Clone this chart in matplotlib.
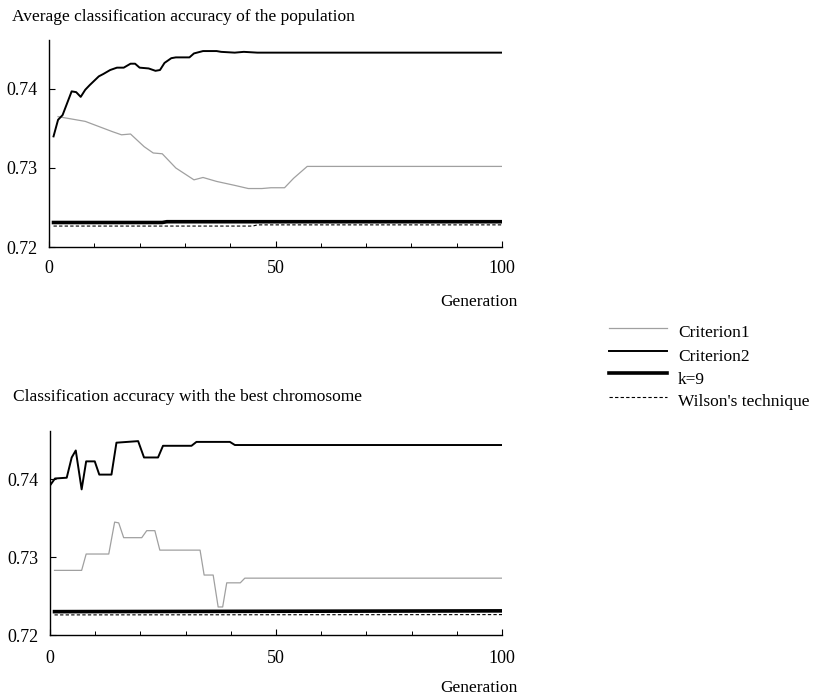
import matplotlib
matplotlib.use("Agg")
import matplotlib.pyplot as plt
from matplotlib.lines import Line2D

plt.rcParams['font.family'] = ['Liberation Serif', 'DejaVu Serif']

# --- donnees (generation, precision) ---
# Moyenne de la population
gen_c1_avg = [2, 8, 14, 16, 18, 21, 23, 25, 28, 32, 34, 37, 41, 44, 47, 49, 52, 54, 57, 100]
c1_avg = [0.7365, 0.7359, 0.7346, 0.7342, 0.7343, 0.7327, 0.7319, 0.7318, 0.7300, 0.7285,
          0.7288, 0.7283, 0.7278, 0.7274, 0.7274, 0.7275, 0.7275, 0.7287, 0.7302, 0.7302]

gen_c2_avg = [1, 2, 3, 5, 6, 7, 8, 9, 11, 12, 13.5, 15, 16.5, 18, 19, 20, 22, 23.5, 24.5,
              25.5, 27, 28, 31, 32, 34, 37, 38, 41, 43, 46, 100]
c2_avg = [0.7340, 0.7361, 0.7367, 0.7397, 0.7396, 0.7390, 0.7399, 0.7405, 0.7416, 0.7419,
          0.7424, 0.7427, 0.7427, 0.7432, 0.7432, 0.7427, 0.7426, 0.7423, 0.7424, 0.7433,
          0.7439, 0.7440, 0.7440, 0.7445, 0.7448, 0.7448, 0.7447, 0.7446, 0.7447, 0.7446, 0.7446]

gen_k9_avg = [1, 25, 26, 100]
k9_avg = [0.7231, 0.7231, 0.7232, 0.7232]

gen_wil_avg = [1, 45, 46, 100]
wil_avg = [0.72265, 0.72265, 0.7228, 0.7228]

# Meilleur chromosome
gen_c1_best = [1, 7, 8, 13, 14.3, 15.2, 16.3, 20.3, 21.4, 23.2, 24.3, 33.2, 34.1, 36.1,
               37.2, 38.2, 39.1, 42.1, 43.1, 100]
c1_best = [0.7283, 0.7283, 0.7304, 0.7304, 0.7345, 0.7344, 0.7325, 0.7325, 0.7334, 0.7334,
           0.7309, 0.7309, 0.7277, 0.7277, 0.7236, 0.7236, 0.7267, 0.7267, 0.7273, 0.7273]

gen_c2_best = [0, 1.1, 3.7, 4.8, 5.7, 7, 8, 9.9, 10.9, 13.6, 14.7, 19.5, 20.8, 23.9, 25,
               31.3, 32.4, 39.8, 40.9, 100]
c2_best = [0.7392, 0.7401, 0.7402, 0.7428, 0.7437, 0.7387, 0.7423, 0.7423, 0.7406, 0.7406,
           0.7447, 0.7449, 0.7428, 0.7428, 0.7443, 0.7443, 0.7448, 0.7448, 0.7444, 0.7444]

gen_k9_best = [1, 100]
k9_best = [0.7230, 0.7231]

gen_wil_best = [1, 100]
wil_best = [0.72258, 0.72262]

x_ticks = [0, 50, 100]
y_ticks = [0.72, 0.73, 0.74]

styles = {
    'c1': dict(color='#a0a0a0', lw=0.9),
    'c2': dict(color='black', lw=1.4),
    'k9': dict(color='black', lw=2.6),
    'wil': dict(color='black', lw=0.8, ls=(0, (3, 2))),
}

fig = plt.figure(figsize=(8.25, 6.99), dpi=100)


def style_axes(ax, xpad):
    ax.set_xlim(0, 100)
    ax.set_ylim(0.72, 0.7462)
    ax.spines['top'].set_visible(False)
    ax.spines['right'].set_visible(False)
    ax.spines['left'].set_linewidth(1.0)
    ax.spines['bottom'].set_linewidth(1.0)
    ax.set_xticks(x_ticks)
    ax.set_xticks(range(0, 101, 10), minor=True)
    ax.set_yticks(y_ticks)
    ax.set_yticklabels(['0.72', '0.73', '0.74'])
    ax.tick_params(axis='both', which='major', direction='in', length=4, width=0.8,
                   labelsize=13)
    ax.tick_params(axis='x', which='major', pad=xpad)
    ax.tick_params(axis='y', which='major', pad=8)
    ax.tick_params(axis='x', which='minor', direction='in', length=3, width=0.7)


def tracer(ax, series):
    for (gx, gy, key) in series:
        ax.plot(gx, gy, **styles[key])


ax1 = fig.add_axes([49 / 825, 452 / 699, 453 / 825, 207 / 699])
tracer(ax1, [(gen_c1_avg, c1_avg, 'c1'), (gen_c2_avg, c2_avg, 'c2'),
             (gen_k9_avg, k9_avg, 'k9'), (gen_wil_avg, wil_avg, 'wil')])
style_axes(ax1, 9.5)

ax2 = fig.add_axes([50 / 825, 64 / 699, 452 / 825, 204 / 699])
tracer(ax2, [(gen_c1_best, c1_best, 'c1'), (gen_c2_best, c2_best, 'c2'),
             (gen_k9_best, k9_best, 'k9'), (gen_wil_best, wil_best, 'wil')])
style_axes(ax2, 11)

# titres et libelles
fig.text(12 / 825, 1 - 17 / 699, 'Average classification accuracy of the population',
         fontsize=12.5, va='center', ha='left')
fig.text(13 / 825, 1 - 397 / 699, 'Classification accuracy with the best chromosome',
         fontsize=12.5, va='center', ha='left')
fig.text(518 / 825, 1 - 302 / 699, 'Generation', fontsize=12.5, va='center', ha='right')
fig.text(518 / 825, 1 - 688 / 699, 'Generation', fontsize=12.5, va='center', ha='right')

# legende dessinee a la main
labels = ['Criterion1', 'Criterion2', 'k=9', "Wilson's technique"]
keys = ['c1', 'c2', 'k9', 'wil']
ligne_y = [328, 351, 373, 397]
texte_y = [333, 357, 380, 402]
for lab, key, ly, ty in zip(labels, keys, ligne_y, texte_y):
    fig.add_artist(Line2D([609 / 825, 667 / 825], [1 - ly / 699, 1 - ly / 699],
                          transform=fig.transFigure, **styles[key]))
    fig.text(678 / 825, 1 - ty / 699, lab, fontsize=12.5, va='center', ha='left')

fig.savefig('out.png', dpi=100)
